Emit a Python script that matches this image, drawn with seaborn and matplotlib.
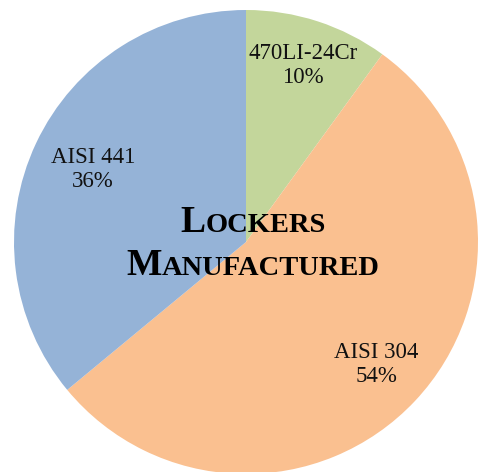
import numpy as np
import matplotlib
matplotlib.use("Agg")
import matplotlib.pyplot as plt
import seaborn as sns
from matplotlib.offsetbox import TextArea, HPacker, VPacker, AnnotationBbox

# data
grades = ["470LI-24Cr", "AISI 304", "AISI 441"]
shares = [10, 54, 36]
colors = ["#C3D69B", "#FAC090", "#95B3D7"]
label_dist = [0.80, 0.77, 0.73]
title_words = ["Lockers", "Manufactured"]

sns.set_theme(style="white")
plt.rcParams["font.family"] = ["Liberation Serif", "DejaVu Serif"]

fig = plt.figure(figsize=(4.78, 4.72), dpi=100)
ax = fig.add_axes([0, 0, 1, 1])

cx, cy, r = 246, 230, 232
wedges, _ = ax.pie(shares, colors=colors, startangle=90, counterclock=False,
                   center=(cx, cy), radius=r, frame=True,
                   wedgeprops=dict(linewidth=0))
ax.set_xlim(0, 478)
ax.set_ylim(0, 472)
ax.set_aspect("equal")
ax.axis("off")

for w, name, s, d in zip(wedges, grades, shares, label_dist):
    ang = np.deg2rad((w.theta1 + w.theta2) / 2)
    x = cx + d * r * np.cos(ang)
    y = cy + d * r * np.sin(ang)
    ax.text(x, y, f"{name}\n{s}%", ha="center", va="center",
            fontsize=16.5, color="#111111", linespacing=1.2)

# small-caps title
lines = []
for word in title_words:
    parts = [TextArea(word[0], textprops=dict(fontsize=27, fontweight="bold", color="black")),
             TextArea(word[1:].upper(), textprops=dict(fontsize=20.5, fontweight="bold", color="black"))]
    lines.append(HPacker(children=parts, align="baseline", pad=0, sep=0))
box = VPacker(children=lines, align="center", pad=0, sep=6)
ab = AnnotationBbox(box, (253, 228), frameon=False, box_alignment=(0.5, 0.5))
ax.add_artist(ab)

fig.savefig("out.png", dpi=100)
